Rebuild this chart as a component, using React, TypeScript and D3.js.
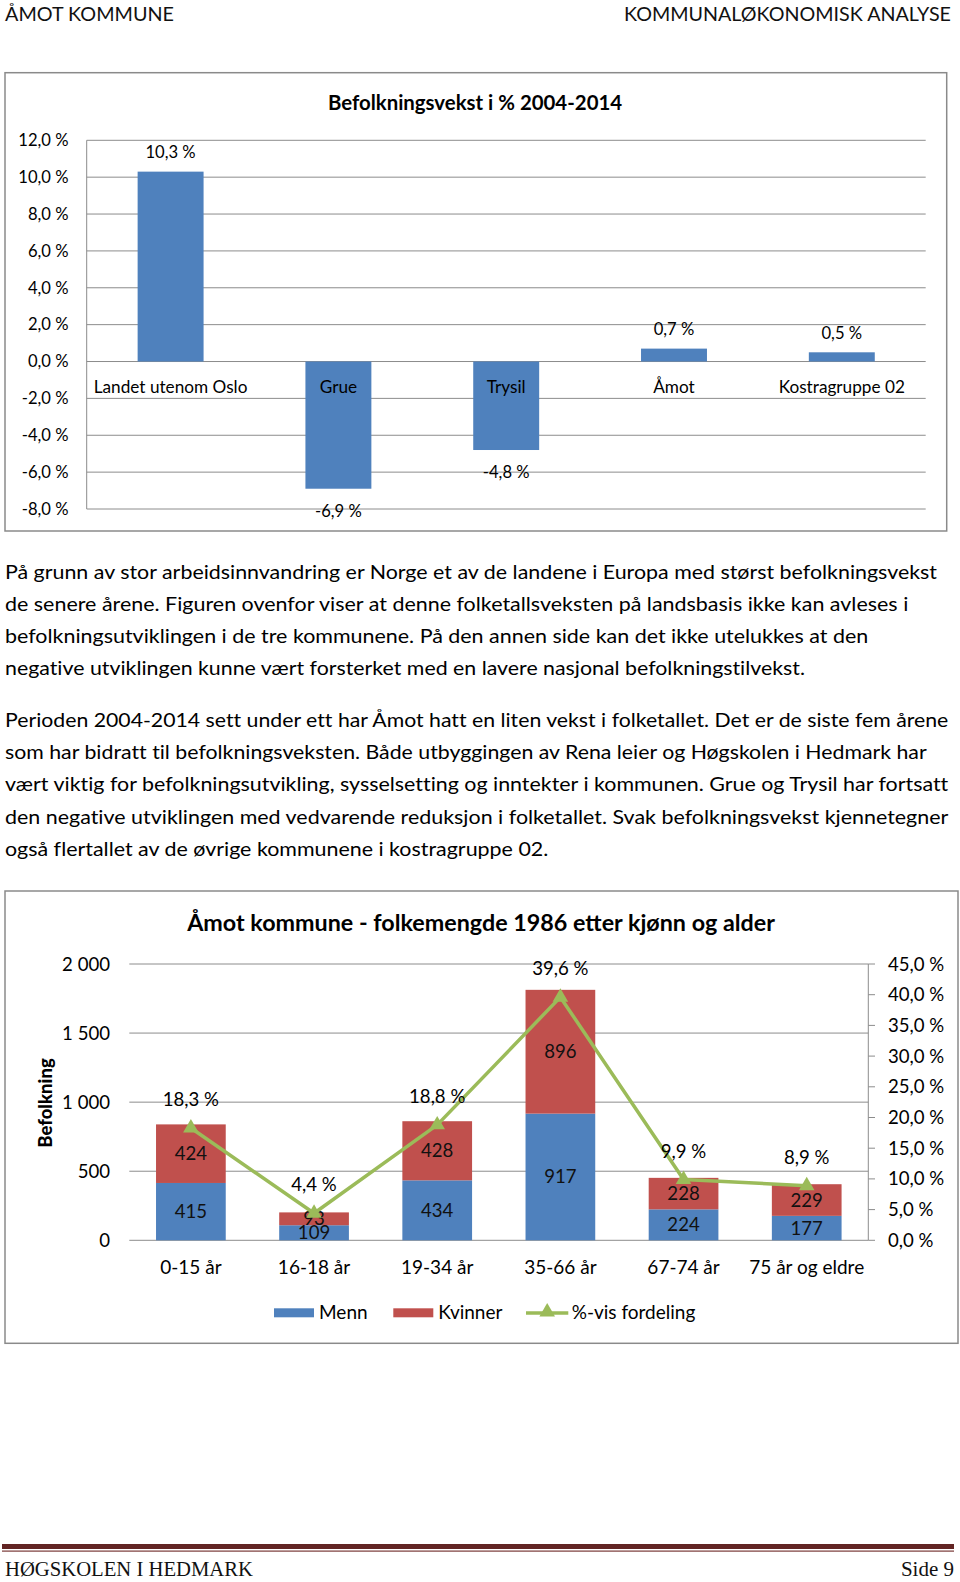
import React from 'react';
import * as d3 from 'd3';

// ---------- DATA ----------
const growthCategories = ['Landet utenom Oslo', 'Grue', 'Trysil', 'Åmot', 'Kostragruppe 02'];
const growthValues = [10.3, -6.9, -4.8, 0.7, 0.5];
const growthTicks = [12, 10, 8, 6, 4, 2, 0, -2, -4, -6, -8];

const ageGroups = ['0-15 år', '16-18 år', '19-34 år', '35-66 år', '67-74 år', '75 år og eldre'];
const menn = [415, 109, 434, 917, 224, 177];
const kvinner = [424, 93, 428, 896, 228, 229];
const pctShare = [18.3, 4.4, 18.8, 39.6, 9.9, 8.9];
const popTicks = [0, 500, 1000, 1500, 2000];
const pctTicks = [0, 5, 10, 15, 20, 25, 30, 35, 40, 45];

const paragraph1 = [
  'På grunn av stor arbeidsinnvandring er Norge et av de landene i Europa med størst befolkningsvekst',
  'de senere årene. Figuren ovenfor viser at denne folketallsveksten på landsbasis ikke kan avleses i',
  'befolkningsutviklingen i de tre kommunene. På den annen side kan det ikke utelukkes at den',
  'negative utviklingen kunne vært forsterket med en lavere nasjonal befolkningstilvekst.',
];
const paragraph2 = [
  'Perioden 2004-2014 sett under ett har Åmot hatt en liten vekst i folketallet. Det er de siste fem årene',
  'som har bidratt til befolkningsveksten. Både utbyggingen av Rena leier og Høgskolen i Hedmark har',
  'vært viktig for befolkningsutvikling, sysselsetting og inntekter i kommunen. Grue og Trysil har fortsatt',
  'den negative utviklingen med vedvarende reduksjon i folketallet. Svak befolkningsvekst kjennetegner',
  'også flertallet av de øvrige kommunene i kostragruppe 02.',
];

// ---------- STYLE / LAYOUT ----------
const FONT = "Lato, 'Open Sans', sans-serif";
const SERIF = "'Liberation Serif', 'DejaVu Serif', serif";
const BLUE = '#4F81BD';
const RED = '#C0504D';
const GREEN = '#9BBB59';
const GRID = '#8C8C8C';
const BORDER = '#8A8A8A';
const para1Widths = [932, 903.3, 863.3, 800];
const para2Widths = [943.3, 921.7, 943.3, 943.3, 543.3];

const fmtPct = (v: number) => (v < 0 ? '-' : '') + Math.abs(v).toFixed(1).replace('.', ',') + ' %';
const noLocale = d3.formatLocale({ decimal: ',', thousands: ' ', grouping: [3], currency: ['', ''] });
const fmtPop = noLocale.format(',');

function GrowthChart() {
  const x = d3.scaleBand<string>().domain(growthCategories).range([86.7, 925.7]).paddingInner(0.607).paddingOuter(0.3035);
  const y = d3.scaleLinear().domain([-8, 12]).range([509, 140.3]);
  const fs = 16.6;
  return (
    <g>
      <rect x={5} y={72.7} width={941.7} height={458.3} fill="#fff" stroke={BORDER} strokeWidth={1.5} />
      <text x={475} y={103} dy="0.35em" textAnchor="middle" fontFamily={FONT} fontWeight="bold" fontSize={20.4} fill="#000">
        Befolkningsvekst i % 2004-2014
      </text>
      {growthTicks.map((t) => (
        <g key={t}>
          <line x1={86.7} x2={925.7} y1={y(t)} y2={y(t)} stroke={GRID} strokeWidth={1} />
          <text x={68.5} y={y(t)} dy="0.35em" textAnchor="end" fontFamily={FONT} fontSize={fs} fill="#000">
            {fmtPct(t)}
          </text>
        </g>
      ))}
      <line x1={86.7} x2={86.7} y1={y(12)} y2={y(-8)} stroke={GRID} strokeWidth={1} />
      {growthCategories.map((c, i) => {
        const v = growthValues[i];
        const bx = x(c)!;
        const bw = x.bandwidth();
        const top = y(Math.max(0, v));
        const bot = y(Math.min(0, v));
        const cx = bx + bw / 2;
        return (
          <g key={c}>
            <rect x={bx} y={top} width={bw} height={bot - top} fill={BLUE} />
            <text x={cx} y={v >= 0 ? top - 19 : bot + 22.5} dy="0.35em" textAnchor="middle" fontFamily={FONT} fontSize={fs} fill="#000">
              {fmtPct(v)}
            </text>
          </g>
        );
      })}
      {growthCategories.map((c) => (
        <text key={c} x={x(c)! + x.bandwidth() / 2} y={386.7} dy="0.35em" textAnchor="middle" fontFamily={FONT} fontSize={17.2} fill="#000">
          {c}
        </text>
      ))}
    </g>
  );
}

function PopulationChart() {
  const x = d3.scaleBand<string>().domain(ageGroups).range([129.3, 868.3]).paddingInner(0.434).paddingOuter(0.217);
  const yL = d3.scaleLinear().domain([0, 2000]).range([1240.3, 964]);
  const yR = d3.scaleLinear().domain([0, 45]).range([1240.3, 964]);
  const fs = 18.6;
  const cxOf = (c: string) => x(c)! + x.bandwidth() / 2;
  const linePath = d3
    .line<number>()
    .x((_, i) => cxOf(ageGroups[i]))
    .y((d) => yR(d))(pctShare);
  const tri = d3.symbol().type(d3.symbolTriangle).size(105)()!;
  return (
    <g>
      <rect x={5} y={891} width={953} height={452.3} fill="#fff" stroke={BORDER} strokeWidth={1.5} />
      <text x={481} y={923.3} dy="0.35em" textAnchor="middle" fontFamily={FONT} fontWeight="bold" fontSize={23.3} fill="#000">
        Åmot kommune - folkemengde 1986 etter kjønn og alder
      </text>
      {popTicks.map((t) => (
        <g key={t}>
          <line x1={129.3} x2={868.3} y1={yL(t)} y2={yL(t)} stroke={GRID} strokeWidth={1} />
          <text x={110} y={yL(t)} dy="0.35em" textAnchor="end" fontFamily={FONT} fontSize={fs} fill="#000">
            {fmtPop(t)}
          </text>
        </g>
      ))}
      <line x1={868.3} x2={868.3} y1={964} y2={1240.3} stroke={GRID} strokeWidth={1} />
      {pctTicks.map((t) => (
        <g key={t}>
          <line x1={868.3} x2={875} y1={yR(t)} y2={yR(t)} stroke={GRID} strokeWidth={1} />
          <text x={888} y={yR(t)} dy="0.35em" textAnchor="start" fontFamily={FONT} fontSize={fs} fill="#000">
            {fmtPct(t)}
          </text>
        </g>
      ))}
      <text
        transform={`translate(46,1103) rotate(-90)`}
        dy="0.35em"
        textAnchor="middle"
        fontFamily={FONT}
        fontWeight="900"
        fontSize={18.5}
        fill="#000"
      >
        Befolkning
      </text>
      {ageGroups.map((c, i) => {
        const bx = x(c)!;
        const bw = x.bandwidth();
        const m = menn[i];
        const k = kvinner[i];
        return (
          <g key={c}>
            <rect x={bx} y={yL(m)} width={bw} height={yL(0) - yL(m)} fill={BLUE} />
            <rect x={bx} y={yL(m + k)} width={bw} height={yL(m) - yL(m + k)} fill={RED} />
          </g>
        );
      })}
      {ageGroups.map((c, i) => {
        const m = menn[i];
        const k = kvinner[i];
        const cx = cxOf(c);
        return (
          <g key={c} fontFamily={FONT} fontSize={fs} fill="#111" textAnchor="middle">
            <text x={cx} y={yL(m / 2)} dy="0.35em">{m}</text>
            <text x={cx} y={yL(m + k / 2)} dy="0.35em">{k}</text>
          </g>
        );
      })}
      <path d={linePath!} fill="none" stroke={GREEN} strokeWidth={3.5} strokeLinejoin="round" />
      {pctShare.map((p, i) => (
        <g key={i}>
          <path d={tri} transform={`translate(${cxOf(ageGroups[i])},${yR(p)})`} fill={GREEN} />
          <text x={cxOf(ageGroups[i])} y={yR(p) - 28.5} dy="0.35em" textAnchor="middle" fontFamily={FONT} fontSize={fs} fill="#000">
            {fmtPct(p)}
          </text>
        </g>
      ))}
      {ageGroups.map((c) => (
        <text key={c} x={cxOf(c)} y={1267.7} dy="0.35em" textAnchor="middle" fontFamily={FONT} fontSize={19} fill="#000">
          {c}
        </text>
      ))}
      {/* Legend */}
      <g fontFamily={FONT} fontSize={19} fill="#000">
        <rect x={274} y={1308.3} width={40} height={9} fill={BLUE} />
        <text x={319} y={1312.3} dy="0.35em">Menn</text>
        <rect x={393.3} y={1308.3} width={40} height={9} fill={RED} />
        <text x={438.3} y={1312.3} dy="0.35em">Kvinner</text>
        <line x1={526} x2={568.3} y1={1313} y2={1313} stroke={GREEN} strokeWidth={3.5} />
        <path d={tri} transform="translate(547.2,1312)" fill={GREEN} />
        <text x={571.7} y={1312.3} dy="0.35em">%-vis fordeling</text>
      </g>
    </g>
  );
}

export default function App() {
  return (
    <svg
      width={960}
      height={1582}
      viewBox="0 0 960 1582"
      style={{ position: 'absolute', left: 0, top: 0, background: '#fff' }}
    >
      <rect x={0} y={0} width={960} height={1582} fill="#fff" />
      <text x={5} y={21} fontFamily={FONT} fontSize={20} textLength={169} lengthAdjust="spacingAndGlyphs" fill="#111">
        ÅMOT KOMMUNE
      </text>
      <text x={624} y={21} fontFamily={FONT} fontSize={20} textLength={327} lengthAdjust="spacingAndGlyphs" fill="#111">
        KOMMUNALØKONOMISK ANALYSE
      </text>

      <GrowthChart />

      <g style={{ fontVariantLigatures: 'none' }}>
        {paragraph1.map((l, i) => (
          <text key={i} x={5} y={578.5 + i * 32.2} fontFamily={FONT} fontSize={19.8} textLength={para1Widths[i]} lengthAdjust="spacingAndGlyphs" fill="#000">
            {l}
          </text>
        ))}
        {paragraph2.map((l, i) => (
          <text key={i} x={5} y={727 + i * 32.2} fontFamily={FONT} fontSize={19.8} textLength={para2Widths[i]} lengthAdjust="spacingAndGlyphs" fill="#000">
            {l}
          </text>
        ))}
      </g>

      <PopulationChart />

      <rect x={2} y={1544} width={952} height={5} fill="#622423" />
      <rect x={2} y={1550.5} width={952} height={1.2} fill="#7a3a38" />
      <text x={5} y={1576} fontFamily={SERIF} fontSize={21} textLength={248} lengthAdjust="spacingAndGlyphs" fill="#111">
        HØGSKOLEN I HEDMARK
      </text>
      <text x={954} y={1576} textAnchor="end" fontFamily={SERIF} fontSize={21} fill="#111">
        Side 9
      </text>
    </svg>
  );
}
